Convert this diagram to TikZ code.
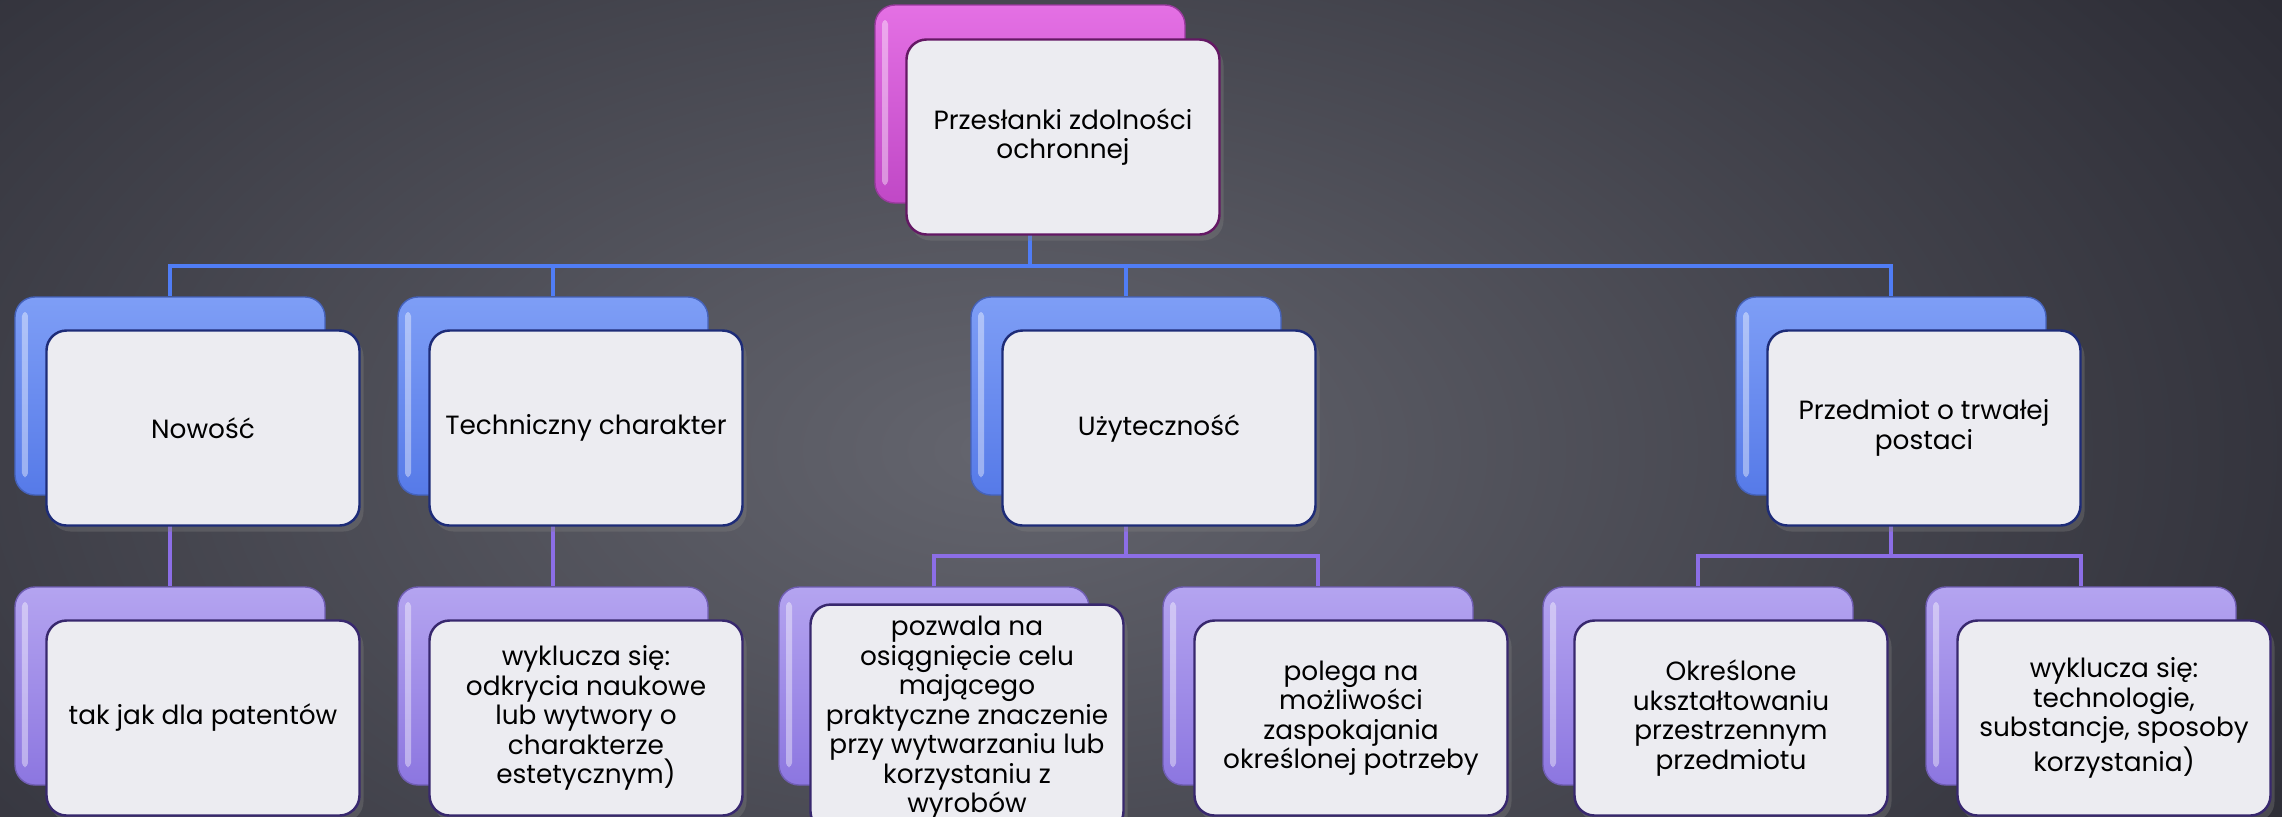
\documentclass[tikz,border=0pt]{standalone}
\usepackage{fontspec}
\setmainfont{Poppins}
\usepackage{tikz}
\usetikzlibrary{positioning, shadows, calc}
\definecolor{bgin}{RGB}{100,101,110}
\definecolor{bgout}{RGB}{44,44,53}
\definecolor{mgtop}{RGB}{228,112,228}
\definecolor{mgbot}{RGB}{192,72,198}
\definecolor{mgedge}{RGB}{100,24,100}
\definecolor{bltop}{RGB}{126,158,246}
\definecolor{blbot}{RGB}{86,122,232}
\definecolor{bledge}{RGB}{30,44,120}
\definecolor{pptop}{RGB}{180,164,240}
\definecolor{ppbot}{RGB}{140,118,224}
\definecolor{ppedge}{RGB}{56,40,110}
\definecolor{blline}{RGB}{80,125,245}
\definecolor{ppline}{RGB}{140,110,230}
\definecolor{cardfill}{RGB}{236,236,241}

\begin{document}
\begin{tikzpicture}[
  backbox/.style n args={2}{rounded corners=2mm, minimum width=3.1cm, minimum height=1.98cm,
    top color=#1, bottom color=#2, draw=#2!80!black, line width=0.4pt,
    path picture={\fill[white, opacity=0.4, rounded corners=0.4mm]
      ([xshift=0.7mm, yshift=-1.5mm]path picture bounding box.north west) rectangle
      ([xshift=1.3mm, yshift=1.8mm]path picture bounding box.south west);}},
  card/.style={rounded corners=2mm, minimum width=3.13cm, minimum height=1.95cm,
    fill=cardfill, draw=#1, line width=0.7pt, align=center,
    font=\fontsize{7.5}{8.4}\selectfont,
    drop shadow={opacity=0.35, shadow xshift=0.4mm, shadow yshift=-0.6mm}},
  bus/.style={line width=1.1pt, #1}
]
% background
\begin{scope}
\clip (0,0) rectangle (22.82,-8.16);
\shade[inner color=bgin, outer color=bgout] (-5,4) rectangle (25,-13);
\end{scope}
\useasboundingbox (0,0) rectangle (22.82,-8.16);

% back boxes
\node[backbox={mgtop}{mgbot}] (rootb) at (10.30,-1.04) {};
\node[backbox={bltop}{blbot}] (nowoscb) at (1.70,-3.96) {};
\node[backbox={bltop}{blbot}] (technb) at (5.53,-3.96) {};
\node[backbox={bltop}{blbot}] (uzytb) at (11.26,-3.96) {};
\node[backbox={bltop}{blbot}] (przedmb) at (18.91,-3.96) {};
\node[backbox={pptop}{ppbot}] (patb) at (1.70,-6.86) {};
\node[backbox={pptop}{ppbot}] (odkrb) at (5.53,-6.86) {};
\node[backbox={pptop}{ppbot}] (celb) at (9.34,-6.86) {};
\node[backbox={pptop}{ppbot}] (potrb) at (13.18,-6.86) {};
\node[backbox={pptop}{ppbot}] (ksztb) at (16.98,-6.86) {};
\node[backbox={pptop}{ppbot}] (technolb) at (20.81,-6.86) {};

% connectors
\coordinate (bus1) at (0,-2.66);
\coordinate (bus2) at (0,-5.56);
\foreach \c in {nowoscb,technb,uzytb,przedmb}
  \draw[bus=blline] (rootb.south) -- (rootb.south |- bus1) -| (\c.north);
\foreach \p/\c in {nowoscb/patb, technb/odkrb, uzytb/celb, uzytb/potrb, przedmb/ksztb, przedmb/technolb}
  \draw[bus=ppline] (\p.south) -- (\p.south |- bus2) -| (\c.north);

% front cards
\node[card=mgedge] (root) at ([shift={(0.33,-0.33)}]rootb) {Przesłanki zdolności\\ochronnej};
\node[card=bledge] (nowosc) at ([shift={(0.33,-0.32)}]nowoscb) {Nowość};
\node[card=bledge] (techn) at ([shift={(0.33,-0.32)}]technb) {Techniczny charakter};
\node[card=bledge] (uzyt) at ([shift={(0.33,-0.32)}]uzytb) {Użyteczność};
\node[card=bledge] (przedm) at ([shift={(0.33,-0.32)}]przedmb) {Przedmiot o trwałej\\postaci};
\node[card=ppedge] (pat) at ([shift={(0.33,-0.32)}]patb) {tak jak dla patentów};
\node[card=ppedge] (odkr) at ([shift={(0.33,-0.32)}]odkrb) {wyklucza się:\\odkrycia naukowe\\lub wytwory o\\charakterze\\estetycznym)};
\node[card=ppedge] (cel) at ([shift={(0.33,-0.32)}]celb) {pozwala na\\osiągnięcie celu\\mającego\\praktyczne znaczenie\\przy wytwarzaniu lub\\korzystaniu z\\wyrobów};
\node[card=ppedge] (potr) at ([shift={(0.33,-0.32)}]potrb) {polega na\\możliwości\\zaspokajania\\określonej potrzeby};
\node[card=ppedge] (kszt) at ([shift={(0.33,-0.32)}]ksztb) {Określone\\ukształtowaniu\\przestrzennym\\przedmiotu};
\node[card=ppedge] (technol) at ([shift={(0.33,-0.32)}]technolb) {wyklucza się:\\technologie,\\substancje, sposoby\\korzystania)};
\end{tikzpicture}
\end{document}
